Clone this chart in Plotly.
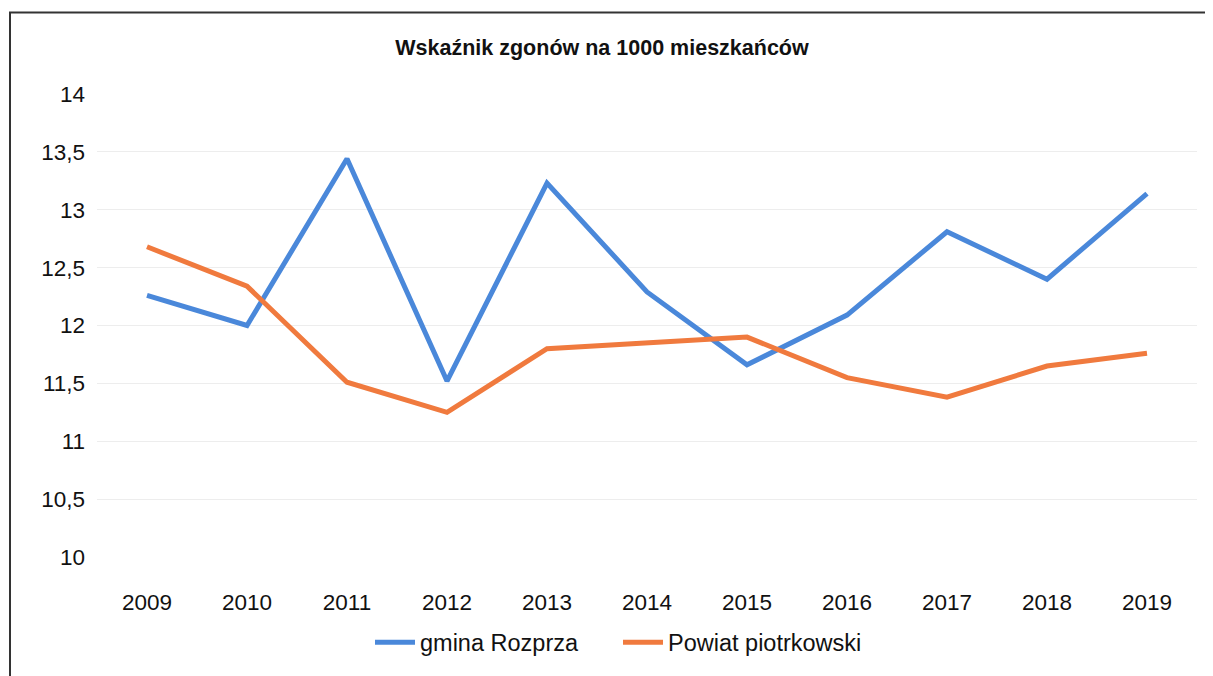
import plotly.graph_objects as go

years = ["2009", "2010", "2011", "2012", "2013", "2014", "2015", "2016", "2017", "2018", "2019"]
gmina_rozprza = [12.26, 12.00, 13.44, 11.52, 13.23, 12.29, 11.66, 12.09, 12.81, 12.40, 13.14]
powiat_piotrkowski = [12.68, 12.34, 11.51, 11.25, 11.80, 11.85, 11.90, 11.55, 11.38, 11.65, 11.76]
y_tick_vals = [10, 10.5, 11, 11.5, 12, 12.5, 13, 13.5, 14]
y_tick_text = ["10", "10,5", "11", "11,5", "12", "12,5", "13", "13,5", "14"]

FONT = "Liberation Sans, Arial, sans-serif"

# page body has an 8px margin, so work in figure coordinates = screen - 8
OFF = 8
W, H = 1213 - OFF, 676 - OFF
L, T = 97 - OFF, 94 - OFF
R = W - (1197 - OFF)
B = H - (560 - OFF)
pw, ph = W - L - R, H - T - B

def px(x):
    return (x - OFF - L) / pw

def py(y):
    return (H - B - (y - OFF)) / ph

fig = go.Figure()
fig.add_trace(go.Scatter(x=years, y=gmina_rozprza, mode="lines", name="gmina Rozprza",
                         line=dict(color="#4A88DA", width=5)))
fig.add_trace(go.Scatter(x=years, y=powiat_piotrkowski, mode="lines", name="Powiat piotrkowski",
                         line=dict(color="#F07A3E", width=5)))

fig.update_layout(
    width=W, height=H,
    margin=dict(l=L, r=R, t=T, b=B),
    paper_bgcolor="white", plot_bgcolor="white",
    font=dict(family=FONT, color="#111111", size=22),
    title=dict(text="<b>Wskaźnik zgonów na 1000 mieszkańców</b>",
               x=(602 - OFF) / W, xanchor="center", y=1 - (47 - OFF) / H, yanchor="middle",
               font=dict(family=FONT, size=21.5, color="#111111")),
    showlegend=True,
    legend=dict(orientation="h", x=px(618), xanchor="center", y=py(646), yanchor="middle",
                font=dict(family=FONT, size=23.5, color="#111111"),
                itemwidth=40, tracegroupgap=0, entrywidth=193),
    xaxis=dict(type="category", range=[-0.5, 10.5], showgrid=False, showline=False,
               zeroline=False, ticks="", ticklabelstandoff=29,
               tickfont=dict(family=FONT, size=22.5, color="#111111")),
    yaxis=dict(range=[10, 14], tickvals=y_tick_vals, ticktext=y_tick_text,
               showgrid=True, gridcolor="#ededed", gridwidth=1, zeroline=False,
               showline=False, ticks="", ticklabelstandoff=11,
               tickfont=dict(family=FONT, size=22.5, color="#111111")),
    shapes=[dict(type="rect", xref="paper", yref="paper",
                 x0=px(10), x1=px(1211), y0=py(700), y1=py(12),
                 line=dict(color="#333333", width=2), fillcolor="rgba(0,0,0,0)", layer="below")],
)

fig.write_html("out.html")
